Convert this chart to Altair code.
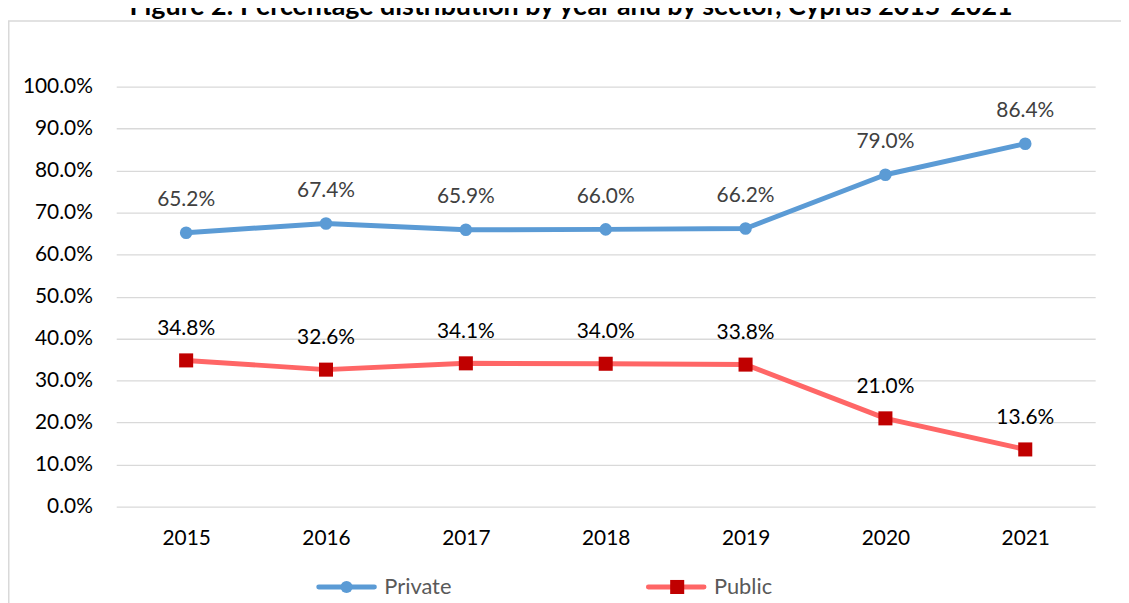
import altair as alt
import pandas as pd

# ---- data ----
years = ["2015", "2016", "2017", "2018", "2019", "2020", "2021"]
private = [65.2, 67.4, 65.9, 66.0, 66.2, 79.0, 86.4]
public = [34.8, 32.6, 34.1, 34.0, 33.8, 21.0, 13.6]
sectors = ["Private", "Public"]
y_ticks = [0.0, 0.1, 0.2, 0.3, 0.4, 0.5, 0.6, 0.7, 0.8, 0.9, 1.0]
title_text = "Figure 2: Percentage distribution by year and by sector, Cyprus 2015-2021"

rows = []
for s, vals in zip(sectors, [private, public]):
    for yr, v in zip(years, vals):
        rows.append({"year": yr, "sector": s, "value": v / 100.0, "label": f"{v:.1f}%"})
df = pd.DataFrame(rows)

FONT = "Lato"
PRIV_LINE = "#5B9BD5"
PUB_LINE = "#FF6666"
PUB_MARK = "#C00000"

x_enc = alt.X(
    "year:O",
    sort=years,
    scale=alt.Scale(type="point", padding=0.5),
    axis=alt.Axis(
        title=None, labelAngle=0, labelFont=FONT, labelFontSize=21,
        labelColor="#000000", domain=False, ticks=False, tickSize=0,
        labelPadding=21, grid=False,
    ),
)
y_enc = alt.Y(
    "value:Q",
    scale=alt.Scale(domain=[0, 1]),
    axis=alt.Axis(
        title=None, values=y_ticks, format=".1%", labelFont=FONT,
        labelFontSize=21, labelColor="#000000", domain=False, ticks=False,
        tickSize=0, labelPadding=24, grid=True, gridColor="#d9d9d9",
        gridWidth=1.3,
    ),
)

base = alt.Chart(df).encode(x=x_enc, y=y_enc)

border = alt.Chart(pd.DataFrame({"b": [1]})).mark_rect(
    fillOpacity=0, stroke="#d9d9d9", strokeWidth=1.5
).encode(
    x=alt.value(-108.25), x2=alt.value(1100), y=alt.value(-66), y2=alt.value(600)
)

title = alt.Chart(pd.DataFrame({"t": [title_text]})).mark_text(
    font=FONT, fontSize=27, fontWeight="bold", color="#000000",
    align="center", baseline="alphabetic"
).encode(x=alt.value(458), y=alt.value(-72), text="t:N")

lines = base.mark_line(strokeWidth=5, strokeCap="round", strokeJoin="round").encode(
    color=alt.Color("sector:N", scale=alt.Scale(domain=sectors, range=[PRIV_LINE, PUB_LINE]), legend=None),
    detail="sector:N",
)

priv_pts = base.transform_filter(alt.datum.sector == "Private").mark_point(
    shape="circle", filled=True, size=160, color=PRIV_LINE, opacity=1
)
pub_pts = base.transform_filter(alt.datum.sector == "Public").mark_point(
    shape="square", filled=True, size=200, color=PUB_MARK, opacity=1
)

priv_lbl = base.transform_filter(alt.datum.sector == "Private").mark_text(
    font=FONT, fontSize=21, color="#404040", dy=-33, baseline="middle", align="center"
).encode(text="label:N")
pub_lbl = base.transform_filter(alt.datum.sector == "Public").mark_text(
    font=FONT, fontSize=21, color="#000000", dy=-32, baseline="middle", align="center"
).encode(text="label:N")

# ---- custom legend ----
leg = pd.DataFrame({"sector": sectors})
leg_priv = alt.Chart(leg).transform_filter(alt.datum.sector == "Private")
leg_pub = alt.Chart(leg).transform_filter(alt.datum.sector == "Public")

legend_layers = [
    leg_priv.mark_rule(strokeWidth=5, strokeCap="round", color=PRIV_LINE).encode(
        x=alt.value(204), x2=alt.value(260), y=alt.value(504)),
    leg_priv.mark_point(shape="circle", filled=True, size=150, color=PRIV_LINE, opacity=1).encode(
        x=alt.value(232), y=alt.value(504)),
    leg_priv.mark_text(font=FONT, fontSize=22, color="#595959", align="left", baseline="middle").encode(
        x=alt.value(270), y=alt.value(504), text="sector:N"),
    leg_pub.mark_rule(strokeWidth=5, strokeCap="round", color=PUB_LINE).encode(
        x=alt.value(536), x2=alt.value(592), y=alt.value(504)),
    leg_pub.mark_point(shape="square", filled=True, size=200, color=PUB_MARK, opacity=1).encode(
        x=alt.value(565), y=alt.value(504)),
    leg_pub.mark_text(font=FONT, fontSize=22, color="#595959", align="left", baseline="middle").encode(
        x=alt.value(602), y=alt.value(504), text="sector:N"),
]

chart = alt.layer(
    border, title, lines, priv_pts, pub_pts, priv_lbl, pub_lbl, *legend_layers
).properties(
    width=986,
    height=423,
    autosize=alt.AutoSizeParams(type="none"),
    padding={"left": 109, "top": 77, "right": 26, "bottom": 95},
    background="#ffffff",
).configure_view(strokeWidth=0)

chart.save("out.html", embed_options={"renderer": "svg", "actions": False})
